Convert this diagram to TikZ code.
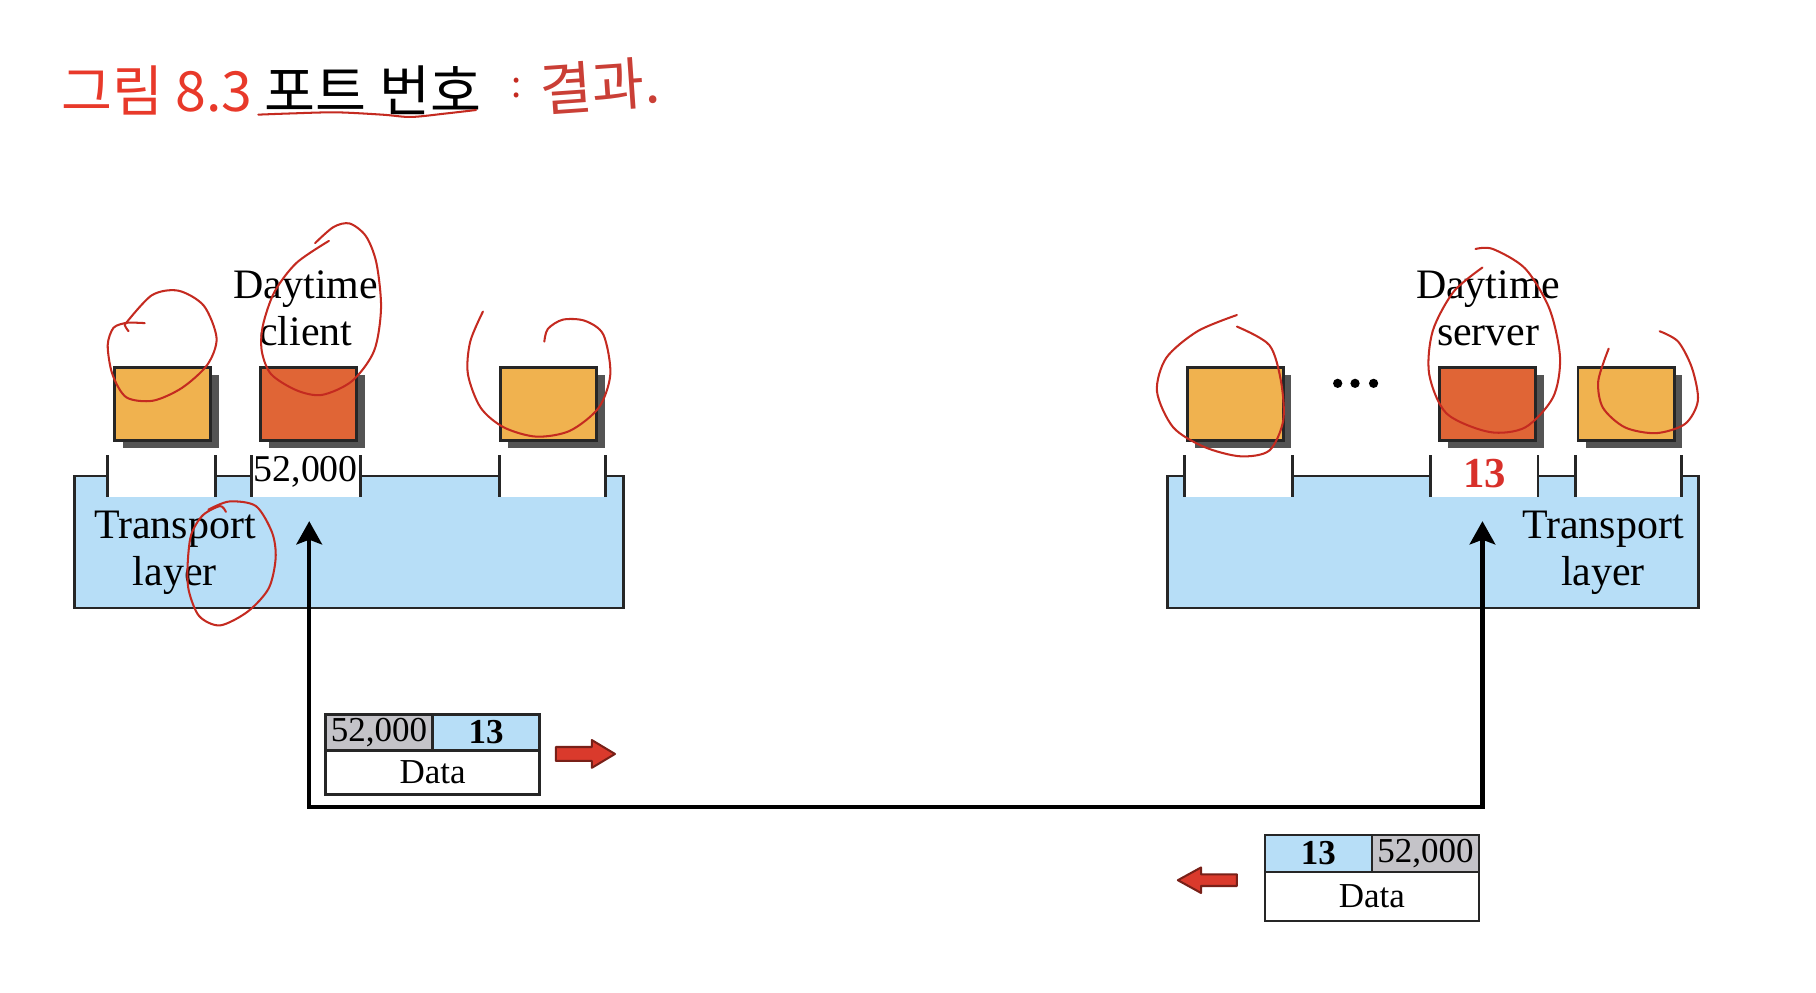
\documentclass[tikz,border=0pt]{standalone}
\usepackage{fontspec}
\setmainfont{Liberation Serif}
\newfontfamily\kofont{Noto Sans CJK KR}
\usetikzlibrary{arrows.meta,positioning,shadows}
\definecolor{proc-orange}{HTML}{F0B24F}
\definecolor{proc-red}{HTML}{E06536}
\definecolor{layer-blue}{HTML}{B7DEF7}
\definecolor{port-gray}{HTML}{C4C3C8}
\definecolor{shadow-gray}{HTML}{545454}
\definecolor{port-red}{HTML}{D8302A}
\definecolor{title-red}{HTML}{E8392A}
\definecolor{pen-red}{HTML}{C42A20}
\definecolor{arrow-red}{HTML}{DA3A2C}

\begin{document}
\begin{tikzpicture}[x=0.1mm, y=-0.1mm,
    every node/.style={font=\fontsize{10.3}{11.6}\selectfont, inner sep=0pt, outer sep=0pt},
    layer/.style={draw=black!85, line width=0.7pt, fill=layer-blue, minimum height=11.4mm},
    proc/.style={draw=black!85, line width=0.7pt, minimum width=8.3mm, minimum height=6.3mm,
        drop shadow={shadow xshift=0.7mm, shadow yshift=-0.7mm, fill=shadow-gray, opacity=1}},
    cell/.style={draw=black!85, line width=0.6pt, minimum width=9.25mm,
        font=\fontsize{8.6}{10}\selectfont},
    link/.style={line width=1.1pt,
        {Stealth[length=2mm,width=2.2mm,inset=0.4mm]}-{Stealth[length=2mm,width=2.2mm,inset=0.4mm]}},
    blockarrow/.style={fill=arrow-red, draw=arrow-red!55!black, line width=0.5pt, line join=round},
    pen/.style={pen-red, line width=0.5pt, line cap=round, line join=round}]
  \useasboundingbox (0,0) rectangle (1568,857);

  % title
  \node[anchor=west, font=\kofont\fontsize{13.6}{15}\selectfont] (title) at (53,78)
      {\textcolor{title-red}{그림 8.3} 포트 번호};
  \node[text=pen-red, font=\kofont\fontsize{9}{10}\selectfont] (colon) at (446,76) {:};
  \node[text=pen-red!90, font=\kofont\fontsize{14}{15}\selectfont, rotate=4] (note) at (518,74) {결과.};

  % transport layers
  \node[layer, minimum width=47.4mm] (clayer) at (301.5,468) {};
  \node[layer, minimum width=45.9mm] (slayer) at (1237.3,468) {};
  \foreach \a/\b in {93/186, 217/311, 431/523, 1023/1116, 1235/1328, 1360/1452} {
    \fill[white] (\a,404) rectangle (\b,429);
    \draw[line width=0.7pt, black!85] (\a,393) -- (\a,429) (\b,393) -- (\b,429);
  }
  \node[font=\fontsize{9.3}{11}\selectfont] (cport) at (264,407) {52,000};
  \node[text=port-red, font=\fontsize{10.5}{12}\selectfont\bfseries] (sport) at (1282,409) {13};
  \node[align=center] (clabel) at (151,477) {Transport\\layer};
  \node[align=center] (slabel) at (1384,477) {Transport\\layer};

  % processes
  \node[proc, fill=proc-orange] (cp1) at (140.5,348.5) {};
  \node[proc, fill=proc-red] (cdt) at (266.4,348.5) {};
  \node[proc, fill=proc-orange] (cp3) at (473.5,348.5) {};
  \node[proc, fill=proc-orange] (sp1) at (1066.5,348.5) {};
  \node[proc, fill=proc-red] (sdt) at (1284.5,348.5) {};
  \node[proc, fill=proc-orange] (sp3) at (1404,348.5) {};
  \node[align=center] (cname) at (264,266) {Daytime\\client};
  \node[align=center] (sname) at (1285,266) {Daytime\\server};
  \foreach \x in {1155,1170,1186}
    \fill (\x,331) circle[radius=0.4mm];

  % path between the two hosts
  \coordinate (ctip) at (267,450);
  \coordinate (cbend) at (267,697);
  \coordinate (sbend) at (1280,697);
  \coordinate (stip) at (1280,450);
  \draw[link] (ctip) -- (cbend) -- (sbend) -- (stip);

  % request packet
  \node[cell, fill=port-gray, minimum height=3.1mm, anchor=north west] (fwdsrc) at (281,617) {52,000};
  \node[cell, fill=layer-blue, minimum height=3.1mm, anchor=west] (fwddst) at (fwdsrc.east) {\bfseries 13};
  \node[cell, minimum width=18.5mm, minimum height=3.8mm, anchor=north west] (fwddata) at (fwdsrc.south west) {Data};
  \draw[blockarrow] (480,645) -- (511,645) -- (511,639) -- (531,651) -- (511,663) -- (511,657) -- (480,657) -- cycle;

  % response packet
  \node[cell, fill=layer-blue, minimum height=3.2mm, anchor=north west] (bwddst) at (1092,721) {\bfseries 13};
  \node[cell, fill=port-gray, minimum height=3.2mm, anchor=west] (bwdsrc) at (bwddst.east) {52,000};
  \node[cell, minimum width=18.5mm, minimum height=4.2mm, anchor=north west] (bwddata) at (bwddst.south west) {Data};
  \draw[blockarrow] (1068,755) -- (1037,755) -- (1037,749) -- (1017,760) -- (1037,771) -- (1037,765) -- (1068,765) -- cycle;

  % pen marks
  \draw[pen] plot[smooth] coordinates {(223,99) (250,98) (290,97) (330,99) (355,101) (385,98) (411,95)};
  \draw[pen] plot[smooth] coordinates {(125,279) (108,279) (111,286)};
  \draw[pen] plot[smooth] coordinates {(108,280) (131,255) (154,251) (176,264) (187,292) (179,315)
      (157,335) (132,346) (109,343) (97,323) (93,298) (98,283) (108,279)};
  \draw[pen] plot[smooth] coordinates {(284,208) (256,227) (237,252) (227,281) (226,303) (234,323)
      (256,337) (278,341) (304,329) (323,303) (329,266) (325,227) (316,204) (302,193) (288,196) (272,210)};
  \draw[pen] plot[smooth] coordinates {(417,269) (406,295) (404,323) (415,352) (435,369) (463,377)
      (492,372) (517,352) (527,323) (521,289) (505,277) (486,276) (473,284) (470,295)};
  \draw[pen] plot[smooth] coordinates {(180,440) (198,433) (221,437) (235,460) (238,482) (232,508)
      (214,528) (190,540) (172,532) (163,510) (162,488) (165,462) (175,445) (190,437) (195,442)};
  \draw[pen] plot[smooth] coordinates {(1068,272) (1034,286) (1007,309) (999,338) (1013,369) (1040,386)
      (1071,394) (1096,389) (1108,363) (1106,329) (1096,298) (1068,282)};
  \draw[pen] plot[smooth] coordinates {(1274,215) (1289,215) (1317,232) (1338,267) (1347,309) (1341,343)
      (1317,369) (1286,373) (1249,357) (1234,323) (1237,286) (1255,252) (1280,231)};
  \draw[pen] plot[smooth] coordinates {(1389,301) (1380,329) (1384,352) (1403,369) (1430,374) (1455,366)
      (1466,346) (1461,318) (1449,295) (1433,286)};
\end{tikzpicture}
\end{document}
